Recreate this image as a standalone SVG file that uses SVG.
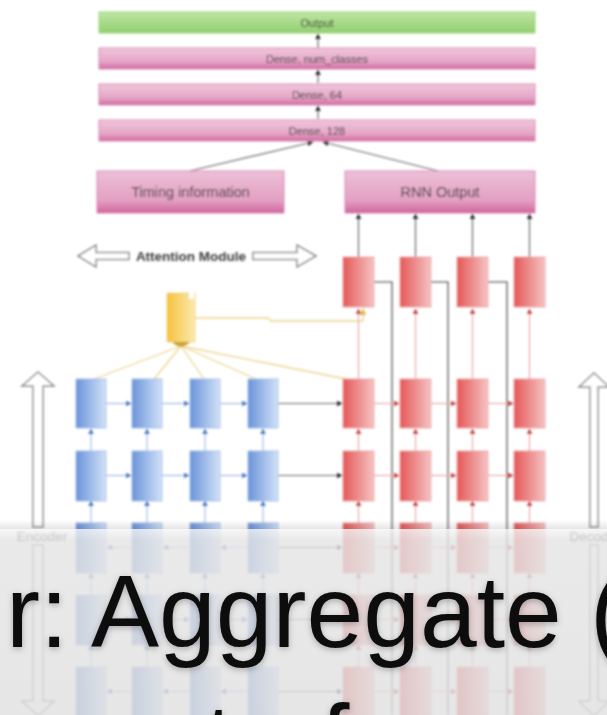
<svg xmlns="http://www.w3.org/2000/svg" width="607" height="715" viewBox="0 0 607 715">
  <defs>
    <style>
      .lbl { font-family: "Liberation Sans", Arial, sans-serif; fill: #3a3a3a; text-anchor: middle; dominant-baseline: central; }
      .dense { fill: url(#gPink); stroke: #d98ab4; stroke-width: 1; }
      .big { fill: url(#gPinkBig); stroke: #d98ab4; stroke-width: 1; }
      .blue { fill: url(#gBlue); stroke: #9db9e6; stroke-width: 0.8; }
      .red { fill: url(#gRed); stroke: #eca2a2; stroke-width: 0.8; }
      .hollow { fill: #fff; stroke: #8a8a8a; stroke-width: 1.5; }
      .dark { stroke: #6a6a6a; stroke-width: 1.2; fill: none; }
      .bl { stroke: #8fb0e2; stroke-width: 1; fill: none; }
      .rd { stroke: #eaa0a0; stroke-width: 1.1; fill: none; }
      .gv { stroke: #7a7a7a; stroke-width: 1.6; fill: none; }
      .yl { stroke: #ecd38c; stroke-width: 1.3; fill: none; }
      .slide { font-family: "Liberation Sans", Arial, Helvetica, sans-serif; font-size: 102px; fill: #0a0a0a; }
    </style>
    <linearGradient id="gPink" x1="0" y1="0" x2="0" y2="1">
      <stop offset="0" stop-color="#efc6db"/>
      <stop offset="0.65" stop-color="#e5a6c7"/>
      <stop offset="1" stop-color="#d26a9f"/>
    </linearGradient>
    <linearGradient id="gPinkBig" x1="0" y1="0" x2="0" y2="1">
      <stop offset="0" stop-color="#ecc0d7"/>
      <stop offset="0.7" stop-color="#e3a0c3"/>
      <stop offset="1" stop-color="#d0659d"/>
    </linearGradient>
    <linearGradient id="gGreen" x1="0" y1="0" x2="0" y2="1">
      <stop offset="0" stop-color="#bde5a3"/>
      <stop offset="1" stop-color="#92cf70"/>
    </linearGradient>
    <linearGradient id="gBlue" x1="0" y1="0" x2="1" y2="0">
      <stop offset="0" stop-color="#6a94da"/>
      <stop offset="1" stop-color="#d2e2f8"/>
    </linearGradient>
    <linearGradient id="gRed" x1="0" y1="0" x2="1" y2="0">
      <stop offset="0" stop-color="#e55858"/>
      <stop offset="1" stop-color="#f6c3c3"/>
    </linearGradient>
    <linearGradient id="gYellow" x1="0" y1="0" x2="1" y2="0">
      <stop offset="0" stop-color="#f6c23e"/>
      <stop offset="1" stop-color="#fce9ad"/>
    </linearGradient>
    <linearGradient id="gShade" x1="0" y1="0" x2="0" y2="1">
      <stop offset="0" stop-color="#000" stop-opacity="0"/>
      <stop offset="1" stop-color="#000" stop-opacity="0.10"/>
    </linearGradient>
    <linearGradient id="gPanel" x1="0" y1="0" x2="0" y2="1">
      <stop offset="0" stop-color="#f4f4f4"/>
      <stop offset="0.06" stop-color="#e4e4e4"/>
      <stop offset="1" stop-color="#e0e0e0"/>
    </linearGradient>
    <marker id="aDark" viewBox="0 0 10 10" refX="9" refY="5" markerWidth="6" markerHeight="6" orient="auto" markerUnits="userSpaceOnUse">
      <path d="M0,0 L10,5 L0,10 z" fill="#2a2a2a"/>
    </marker>
    <marker id="aBlue" viewBox="0 0 10 10" refX="9" refY="5" markerWidth="6" markerHeight="6" orient="auto" markerUnits="userSpaceOnUse">
      <path d="M0,0 L10,5 L0,10 z" fill="#4d78c4"/>
    </marker>
    <marker id="aRed" viewBox="0 0 10 10" refX="9" refY="5" markerWidth="6" markerHeight="6" orient="auto" markerUnits="userSpaceOnUse">
      <path d="M0,0 L10,5 L0,10 z" fill="#c44040"/>
    </marker>
    <marker id="aYellow" viewBox="0 0 10 10" refX="9" refY="5" markerWidth="7" markerHeight="7" orient="auto" markerUnits="userSpaceOnUse">
      <path d="M0,0 L10,5 L0,10 z" fill="#e2bd4e"/>
    </marker>
    <filter id="soft" x="-5%" y="-5%" width="110%" height="110%">
      <feGaussianBlur stdDeviation="0.95"/>
    </filter>
    <filter id="tshadow" x="-10%" y="-20%" width="120%" height="140%">
      <feDropShadow dx="0" dy="2" stdDeviation="3" flood-color="#000" flood-opacity="0.28"/>
    </filter>
  </defs>

  <rect width="607" height="715" fill="#ffffff"/>

  <g id="diagram" filter="url(#soft)">
    <!-- connectors -->
    <g id="connectors">
      <!-- dense stack -->
      <path class="dark" d="M318 119 V106" marker-end="url(#aDark)"/>
      <path class="dark" d="M318 83 V70" marker-end="url(#aDark)"/>
      <path class="dark" d="M318 48 V34" marker-end="url(#aDark)"/>
      <path class="dark" d="M190 171 L313 142" marker-end="url(#aDark)"/>
      <path class="dark" d="M438 171 L323 142" marker-end="url(#aDark)"/>
      <!-- decoder top row to RNN output -->
      <path class="dark" d="M358.5 257 V214" marker-end="url(#aDark)"/>
      <path class="dark" d="M415.5 257 V214" marker-end="url(#aDark)"/>
      <path class="dark" d="M472.5 257 V214" marker-end="url(#aDark)"/>
      <path class="dark" d="M529.5 257 V214" marker-end="url(#aDark)"/>
      <!-- feedback lines from decoder outputs -->
      <path class="gv" d="M374 282 H392 V715"/>
      <path class="gv" d="M431 282 H448 V715"/>
      <path class="gv" d="M488 282 H507 V715"/>
      <!-- attention fan-out -->
      <path class="yl" d="M181 346 L94 379"/>
      <path class="yl" d="M181 346 L154 379"/>
      <path class="yl" d="M181 346 L204 379"/>
      <path class="yl" d="M181 346 L256 379"/>
      <path class="yl" d="M181 346 L346 379"/>
      <path class="yl" d="M195 318 H268 L271 321 H363 V309" marker-end="url(#aYellow)"/>
      <!-- decoder row 1 to top row -->
      <path class="rd" d="M358.5 379 V309" marker-end="url(#aRed)"/>
      <path class="rd" d="M415.5 379 V309" marker-end="url(#aRed)"/>
      <path class="rd" d="M472.5 379 V309" marker-end="url(#aRed)"/>
      <path class="rd" d="M529.5 379 V309" marker-end="url(#aRed)"/>

      <!-- rows: 379, 451, 523, 595, 667 -->
      <!-- encoder horizontal -->
      <path class="bl" d="M106 403.5 H131" marker-end="url(#aBlue)"/>
      <path class="bl" d="M162 403.5 H189" marker-end="url(#aBlue)"/>
      <path class="bl" d="M220 403.5 H247" marker-end="url(#aBlue)"/>
      <path class="bl" d="M106 475.5 H131" marker-end="url(#aBlue)"/>
      <path class="bl" d="M162 475.5 H189" marker-end="url(#aBlue)"/>
      <path class="bl" d="M220 475.5 H247" marker-end="url(#aBlue)"/>
      <path class="bl" d="M131 547.5 H107" marker-end="url(#aBlue)"/>
      <path class="bl" d="M189 547.5 H163" marker-end="url(#aBlue)"/>
      <path class="bl" d="M247 547.5 H221" marker-end="url(#aBlue)"/>
      <path class="bl" d="M106 619.5 H131" marker-end="url(#aBlue)"/>
      <path class="bl" d="M162 619.5 H189" marker-end="url(#aBlue)"/>
      <path class="bl" d="M220 619.5 H247" marker-end="url(#aBlue)"/>
      <path class="bl" d="M131 691.5 H107" marker-end="url(#aBlue)"/>
      <path class="bl" d="M189 691.5 H163" marker-end="url(#aBlue)"/>
      <path class="bl" d="M247 691.5 H221" marker-end="url(#aBlue)"/>
      <!-- encoder vertical -->
      <path class="bl" d="M91 451 V429" marker-end="url(#aBlue)"/>
      <path class="bl" d="M147 451 V429" marker-end="url(#aBlue)"/>
      <path class="bl" d="M205 451 V429" marker-end="url(#aBlue)"/>
      <path class="bl" d="M263 451 V429" marker-end="url(#aBlue)"/>
      <path class="bl" d="M91 523 V501" marker-end="url(#aBlue)"/>
      <path class="bl" d="M147 523 V501" marker-end="url(#aBlue)"/>
      <path class="bl" d="M205 523 V501" marker-end="url(#aBlue)"/>
      <path class="bl" d="M263 523 V501" marker-end="url(#aBlue)"/>
      <path class="bl" d="M91 595 V573" marker-end="url(#aBlue)"/>
      <path class="bl" d="M147 595 V573" marker-end="url(#aBlue)"/>
      <path class="bl" d="M205 595 V573" marker-end="url(#aBlue)"/>
      <path class="bl" d="M263 595 V573" marker-end="url(#aBlue)"/>
      <path class="bl" d="M91 667 V645" marker-end="url(#aBlue)"/>
      <path class="bl" d="M147 667 V645" marker-end="url(#aBlue)"/>
      <path class="bl" d="M205 667 V645" marker-end="url(#aBlue)"/>
      <path class="bl" d="M263 667 V645" marker-end="url(#aBlue)"/>
      <!-- encoder to decoder -->
      <path class="dark" d="M278 403.5 H342" marker-end="url(#aDark)"/>
      <path class="dark" d="M278 475.5 H342" marker-end="url(#aDark)"/>
      <path class="dark" d="M278 547.5 H342" marker-end="url(#aDark)"/>
      <path class="dark" d="M278 619.5 H342" marker-end="url(#aDark)"/>
      <path class="dark" d="M278 691.5 H342" marker-end="url(#aDark)"/>
      <!-- decoder horizontal -->
      <path class="rd" d="M374 403.5 H399" marker-end="url(#aRed)"/>
      <path class="rd" d="M431 403.5 H456" marker-end="url(#aRed)"/>
      <path class="rd" d="M488 403.5 H513" marker-end="url(#aRed)"/>
      <path class="rd" d="M374 475.5 H399" marker-end="url(#aRed)"/>
      <path class="rd" d="M431 475.5 H456" marker-end="url(#aRed)"/>
      <path class="rd" d="M488 475.5 H513" marker-end="url(#aRed)"/>
      <path class="rd" d="M374 547.5 H399" marker-end="url(#aRed)"/>
      <path class="rd" d="M431 547.5 H456" marker-end="url(#aRed)"/>
      <path class="rd" d="M488 547.5 H513" marker-end="url(#aRed)"/>
      <path class="rd" d="M374 619.5 H399" marker-end="url(#aRed)"/>
      <path class="rd" d="M431 619.5 H456" marker-end="url(#aRed)"/>
      <path class="rd" d="M488 619.5 H513" marker-end="url(#aRed)"/>
      <path class="rd" d="M374 691.5 H399" marker-end="url(#aRed)"/>
      <path class="rd" d="M431 691.5 H456" marker-end="url(#aRed)"/>
      <path class="rd" d="M488 691.5 H513" marker-end="url(#aRed)"/>
      <!-- decoder vertical -->
      <path class="rd" d="M358.5 451 V429" marker-end="url(#aRed)"/>
      <path class="rd" d="M415.5 451 V429" marker-end="url(#aRed)"/>
      <path class="rd" d="M472.5 451 V429" marker-end="url(#aRed)"/>
      <path class="rd" d="M529.5 451 V429" marker-end="url(#aRed)"/>
      <path class="rd" d="M358.5 523 V501" marker-end="url(#aRed)"/>
      <path class="rd" d="M415.5 523 V501" marker-end="url(#aRed)"/>
      <path class="rd" d="M472.5 523 V501" marker-end="url(#aRed)"/>
      <path class="rd" d="M529.5 523 V501" marker-end="url(#aRed)"/>
      <path class="rd" d="M358.5 595 V573" marker-end="url(#aRed)"/>
      <path class="rd" d="M415.5 595 V573" marker-end="url(#aRed)"/>
      <path class="rd" d="M472.5 595 V573" marker-end="url(#aRed)"/>
      <path class="rd" d="M529.5 595 V573" marker-end="url(#aRed)"/>
      <path class="rd" d="M358.5 667 V645" marker-end="url(#aRed)"/>
      <path class="rd" d="M415.5 667 V645" marker-end="url(#aRed)"/>
      <path class="rd" d="M472.5 667 V645" marker-end="url(#aRed)"/>
      <path class="rd" d="M529.5 667 V645" marker-end="url(#aRed)"/>
    </g>

    <!-- dense head -->
    <g id="output"><rect x="99" y="12" width="436" height="21" fill="url(#gGreen)" stroke="#9fd67f"/><text class="lbl" x="317" y="22.5" font-size="11">Output</text></g>
    <g id="dense-num-classes"><rect class="dense" x="99" y="48" width="436" height="21"/><text class="lbl" x="317" y="58.5" font-size="11">Dense, num_classes</text></g>
    <g id="dense-64"><rect class="dense" x="99" y="84" width="436" height="21"/><text class="lbl" x="317" y="94.5" font-size="11">Dense, 64</text></g>
    <g id="dense-128"><rect class="dense" x="99" y="120" width="436" height="21"/><text class="lbl" x="317" y="130.5" font-size="11">Dense, 128</text></g>
    <g id="timing-information"><rect class="big" x="97" y="171" width="187" height="42"/><text class="lbl" x="190.5" y="192" font-size="14.5">Timing information</text></g>
    <g id="rnn-output"><rect class="big" x="345" y="171" width="190" height="42"/><text class="lbl" x="440" y="192" font-size="14.5">RNN Output</text></g>

    <!-- attention module span -->
    <g id="attention-module">
      <path class="hollow" d="M78 256 L96 245 L96 252.5 H129 V259.5 H96 V267 Z"/>
      <path class="hollow" d="M316 256 L297 245 L297 252.5 H253 V259.5 H297 V267 Z"/>
      <text class="lbl" x="191" y="256" font-size="13.5" font-weight="bold" fill="#444">Attention Module</text>
    </g>

    <!-- attention node -->
    <g id="attention">
      <rect x="167" y="293" width="28" height="49" fill="url(#gYellow)" stroke="#f1d27a" stroke-width="0.8"/>
      <path d="M172 342 Q181 351 190 342 Z" fill="#c9a136"/>
      <rect x="189" y="292" width="5" height="7" fill="#ffffff"/>
    </g>

    <!-- encoder cells -->
    <g id="enc-1-1"><rect class="blue" x="76" y="379" width="30" height="49"/></g>
    <g id="enc-1-2"><rect class="blue" x="132" y="379" width="30" height="49"/></g>
    <g id="enc-1-3"><rect class="blue" x="190" y="379" width="30" height="49"/></g>
    <g id="enc-1-4"><rect class="blue" x="248" y="379" width="30" height="49"/></g>
    <g id="enc-2-1"><rect class="blue" x="76" y="451" width="30" height="50"/></g>
    <g id="enc-2-2"><rect class="blue" x="132" y="451" width="30" height="50"/></g>
    <g id="enc-2-3"><rect class="blue" x="190" y="451" width="30" height="50"/></g>
    <g id="enc-2-4"><rect class="blue" x="248" y="451" width="30" height="50"/></g>
    <g id="enc-3-1"><rect class="blue" x="76" y="523" width="30" height="50"/></g>
    <g id="enc-3-2"><rect class="blue" x="132" y="523" width="30" height="50"/></g>
    <g id="enc-3-3"><rect class="blue" x="190" y="523" width="30" height="50"/></g>
    <g id="enc-3-4"><rect class="blue" x="248" y="523" width="30" height="50"/></g>
    <g id="enc-4-1"><rect class="blue" x="76" y="595" width="30" height="50"/></g>
    <g id="enc-4-2"><rect class="blue" x="132" y="595" width="30" height="50"/></g>
    <g id="enc-4-3"><rect class="blue" x="190" y="595" width="30" height="50"/></g>
    <g id="enc-4-4"><rect class="blue" x="248" y="595" width="30" height="50"/></g>
    <g id="enc-5-1"><rect class="blue" x="76" y="667" width="30" height="50"/></g>
    <g id="enc-5-2"><rect class="blue" x="132" y="667" width="30" height="50"/></g>
    <g id="enc-5-3"><rect class="blue" x="190" y="667" width="30" height="50"/></g>
    <g id="enc-5-4"><rect class="blue" x="248" y="667" width="30" height="50"/></g>

    <!-- decoder cells -->
    <g id="dec-0-1"><rect class="red" x="343" y="257" width="31" height="50"/></g>
    <g id="dec-0-2"><rect class="red" x="400" y="257" width="31" height="50"/></g>
    <g id="dec-0-3"><rect class="red" x="457" y="257" width="31" height="50"/></g>
    <g id="dec-0-4"><rect class="red" x="514" y="257" width="31" height="50"/></g>
    <g id="dec-1-1"><rect class="red" x="343" y="379" width="31" height="49"/></g>
    <g id="dec-1-2"><rect class="red" x="400" y="379" width="31" height="49"/></g>
    <g id="dec-1-3"><rect class="red" x="457" y="379" width="31" height="49"/></g>
    <g id="dec-1-4"><rect class="red" x="514" y="379" width="31" height="49"/></g>
    <g id="dec-2-1"><rect class="red" x="343" y="451" width="31" height="50"/></g>
    <g id="dec-2-2"><rect class="red" x="400" y="451" width="31" height="50"/></g>
    <g id="dec-2-3"><rect class="red" x="457" y="451" width="31" height="50"/></g>
    <g id="dec-2-4"><rect class="red" x="514" y="451" width="31" height="50"/></g>
    <g id="dec-3-1"><rect class="red" x="343" y="523" width="31" height="50"/></g>
    <g id="dec-3-2"><rect class="red" x="400" y="523" width="31" height="50"/></g>
    <g id="dec-3-3"><rect class="red" x="457" y="523" width="31" height="50"/></g>
    <g id="dec-3-4"><rect class="red" x="514" y="523" width="31" height="50"/></g>
    <g id="dec-4-1"><rect class="red" x="343" y="595" width="31" height="50"/></g>
    <g id="dec-4-2"><rect class="red" x="400" y="595" width="31" height="50"/></g>
    <g id="dec-4-3"><rect class="red" x="457" y="595" width="31" height="50"/></g>
    <g id="dec-4-4"><rect class="red" x="514" y="595" width="31" height="50"/></g>
    <g id="dec-5-1"><rect class="red" x="343" y="667" width="31" height="50"/></g>
    <g id="dec-5-2"><rect class="red" x="400" y="667" width="31" height="50"/></g>
    <g id="dec-5-3"><rect class="red" x="457" y="667" width="31" height="50"/></g>
    <g id="dec-5-4"><rect class="red" x="514" y="667" width="31" height="50"/></g>

    <!-- encoder / decoder span arrows -->
    <g id="encoder-span">
      <path class="hollow" d="M38 372 L54 386 H43 V527 H33 V386 H22 Z"/>
      <path class="hollow" d="M33 545 H43 V701 H54 L38 716 L22 701 H33 Z"/>
      <text class="lbl" x="42" y="536" font-size="13.5" fill="#555">Encoder</text>
    </g>
    <g id="decoder-span">
      <path class="hollow" d="M594 373 L609 387 H598 V527 H590 V387 H579 Z"/>
      <path class="hollow" d="M590 545 H598 V701 H609 L594 716 L579 701 H590 Z"/>
      <text class="lbl" x="595" y="536" font-size="13.5" fill="#555">Decoder</text>
    </g>
  </g>

  <!-- caption panel laid over the figure -->
  <g id="caption">
    <rect x="0" y="520" width="607" height="9" fill="url(#gShade)"/>
    <rect x="0" y="529" width="607" height="186" fill="url(#gPanel)" opacity="0.8"/>
    <g filter="url(#tshadow)">
      <text class="slide" x="6" y="647">r: Aggregate (</text>
      <text class="slide" x="205" y="776">t</text>
      <text class="slide" x="321" y="776">f</text>
    </g>
  </g>
</svg>
